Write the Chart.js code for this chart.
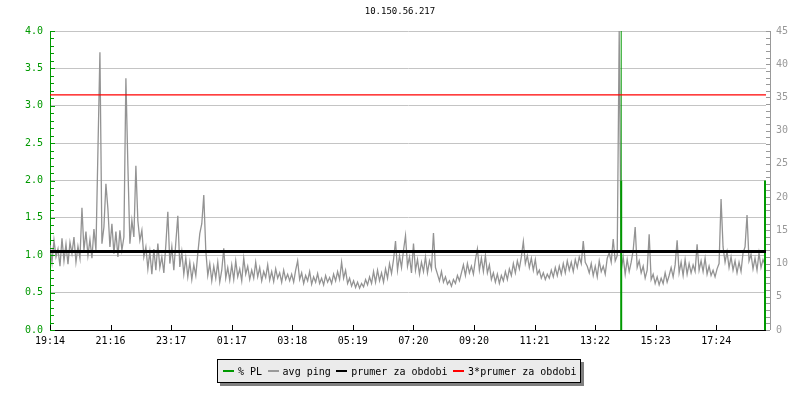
<!DOCTYPE html>
<html>
<head>
<meta charset="utf-8">
<script src="https://cdn.jsdelivr.net/npm/chart.js@4"></script>
<style>
  body { margin: 0; background: #fff; }
  #wrap { position: relative; width: 800px; height: 400px; }
  #title { position: absolute; top: 6px; left: 0; width: 800px; text-align: center;
           font: 9px "DejaVu Sans Mono", monospace; color: #000; }
  #legend { position: absolute; left: 217px; top: 359px; height: 24px; box-sizing: border-box;
            padding: 0 4px 0 5px; display: flex; align-items: center; background: #ebebeb;
            border: 1px solid #000; box-shadow: 3px 3px 0 #808080;
            font: 10px "DejaVu Sans Mono", monospace; color: #000; white-space: pre; }
  #legend .dash { display: inline-block; width: 11px; height: 2px; margin-right: 4px; }
  #legend .item { display: flex; align-items: center; margin-right: 5.5px; }
  #legend .item:last-child { margin-right: 0; }
</style>
</head>
<body>
<div id="wrap">
  <canvas id="pingChart" width="800" height="400"></canvas>
  <div id="title">10.150.56.217</div>
  <div id="legend"></div>
</div>
<script>
// time axis labels (ticks every ~2h)
const tickLabels = ["19:14", "21:16", "23:17", "01:17", "03:18", "05:19", "07:20", "09:20", "11:21", "13:22", "15:23", "17:24"];
const tickStepMin = 121.3;
const sampleStepMin = 4;
const rangeMin = 1434;

// avg ping [ms], one sample every 4 minutes starting 19:14
const avgPing = [
  12.8, 10.2, 13.5, 11.0, 12.2, 9.6, 13.8, 10.4, 12.9, 9.9, 13.2, 11.5, 14.0, 10.2, 12.6, 10.8,
  18.4, 12.0, 14.8, 11.2, 13.6, 10.8, 15.2, 12.0, 27.0, 41.8, 13.0, 15.5, 22.0, 18.2, 12.5, 16.0,
  11.5, 14.8, 11.0, 15.0, 12.0, 14.0, 37.9, 24.7, 13.0, 16.5, 14.0, 24.7, 16.4, 13.5, 15.0, 11.0,
  12.5, 9.2, 11.8, 8.4, 12.2, 9.0, 13.0, 9.4, 11.0, 8.6, 12.8, 17.8, 10.0, 12.5, 9.0, 13.2,
  17.2, 9.5, 11.8, 8.4, 10.8, 8.0, 10.2, 7.6, 9.8, 8.2, 11.5, 14.5, 16.0, 20.3, 12.0, 8.2,
  10.0, 7.4, 9.6, 7.8, 10.2, 7.2, 9.0, 12.3, 7.8, 9.4, 7.5,
  9.8, 7.6, 10.4, 8.0, 9.2, 7.4, 10.8, 8.4, 9.6, 7.6, 9.0, 7.8, 10.2, 8.0, 9.4, 7.4,
  8.8, 7.9, 9.8, 7.5, 8.8, 7.3, 9.2, 7.8, 8.6, 7.2, 9.0, 7.6, 8.4, 7.4,
  8.4, 7.2, 9.0, 10.4, 7.6, 8.6, 7.0, 8.2, 7.4, 8.8, 6.9, 8.0, 7.2, 8.5, 7.0, 7.8,
  6.8, 8.2, 7.2, 7.9, 7.0, 8.4, 7.4, 8.8, 7.6,
  10.2, 7.8, 9.0, 7.0, 7.8, 6.6, 7.4, 6.4, 7.2, 6.3, 7.0, 6.5, 7.6, 6.8, 8.0, 7.0,
  8.8, 7.2, 9.0, 7.4, 8.6, 7.2, 9.2, 7.8, 10.0, 8.5, 10.6, 13.4, 9.0, 11.2, 9.4, 12.0,
  14.2, 9.6, 11.0,
  8.6, 13.0, 9.0, 10.6, 8.4, 10.2, 8.8, 11.0, 8.6, 10.4, 9.2, 14.6, 9.4,
  8.4, 7.4, 8.8, 7.2, 8.0, 6.9, 7.4, 6.6, 7.6, 7.0, 8.2, 7.4, 8.6,
  9.8, 8.2, 10.0, 8.6, 9.6, 8.4, 10.6, 12.2, 9.0, 10.8, 8.8, 11.2, 8.6, 9.8, 7.6, 8.6,
  7.2, 8.4, 7.0, 8.2, 7.4, 8.8, 7.6, 9.2, 8.2, 10.0, 8.6, 10.4, 9.2, 11.0, 13.3, 10.0,
  11.2, 9.4,
  10.8, 9.0, 10.6, 8.4, 9.0, 7.8, 8.6, 7.6, 8.4, 7.8, 9.0, 8.0, 9.4, 8.2, 9.6, 8.4,
  10.0, 8.6, 10.4, 9.0, 10.2, 8.8, 10.6, 9.4, 11.0, 10.0, 13.4, 10.2, 9.6, 8.6,
  10.0, 8.2, 9.6, 8.0, 10.4, 8.8, 9.6, 8.4, 10.8, 11.6, 10.2, 13.7, 10.4, 11.2, 45.0,
  9.0, 11.0, 8.4, 10.6, 8.8, 10.2, 12.0, 15.5, 9.4, 10.4, 8.6, 9.6,
  7.8, 9.0, 14.4, 7.6, 8.4, 7.0, 8.0, 6.8, 7.8, 7.0, 8.6, 7.2, 8.2,
  9.4, 8.0, 9.8, 13.5, 8.6, 10.2, 8.2, 10.6, 8.4, 10.0, 8.6, 9.8, 8.8, 12.9, 9.0, 10.4,
  8.8, 10.8, 8.4, 9.6, 8.2, 9.0, 8.0, 9.2, 10.0,
  19.7, 12.5, 10.2, 11.8, 9.4, 11.0, 9.0, 10.4, 8.6, 10.2, 8.8, 11.6, 12.5, 17.3, 10.4, 11.4,
  9.2, 10.8, 9.0, 11.6, 9.4, 10.6, 9.8
];

// packet loss events [%]
const plTimes = [1144, 1432];
const plValues = [2, 2];
const plMax = [4, 2];

const prumer = 11.8;        // prumer za obdobi [ms]
const prumer3 = 35.4;       // 3*prumer

const color = { Green: '#009900', Grey: '#999999', Black: '#000000', Red: '#ff0000', Grid: '#c4c4c4' };

const pingData = avgPing.map((v, i) => ({ x: i * sampleStepMin, y: v }));
const plData = [], plPeakData = [];
plTimes.forEach((t, i) => {
  plData.push({ x: t, y: 0 }, { x: t, y: plValues[i] }, { x: t, y: null });
  if (plMax[i] > plValues[i]) plPeakData.push({ x: t, y: plValues[i] }, { x: t, y: plMax[i] }, { x: t, y: null });
});

// small axis ticks drawn inside, rrdtool style
const minorTicks = {
  id: 'minorTicks',
  afterDraw(chart) {
    const ctx = chart.ctx, a = chart.chartArea;
    const yl = chart.scales.y, yr = chart.scales.y1, x = chart.scales.x;
    ctx.save();
    ctx.lineWidth = 1;
    ctx.strokeStyle = color.Green;
    for (let k = 0; k <= 40; k++) {
      const py = Math.round(yl.getPixelForValue(k / 10)) + 0.5;
      ctx.beginPath(); ctx.moveTo(a.left, py); ctx.lineTo(a.left + (k % 5 ? 4 : 5), py); ctx.stroke();
    }
    ctx.strokeStyle = color.Grey;
    for (let k = 0; k <= 45; k++) {
      const py = Math.round(yr.getPixelForValue(k)) + 0.5;
      ctx.beginPath(); ctx.moveTo(a.right, py); ctx.lineTo(a.right + 4, py); ctx.stroke();
    }
    ctx.beginPath(); ctx.moveTo(a.right + 4.5, a.top); ctx.lineTo(a.right + 4.5, a.bottom); ctx.stroke();
    ctx.strokeStyle = color.Black;
    x.ticks.forEach(t => {
      const px = Math.round(x.getPixelForValue(t.value)) + 0.5;
      ctx.beginPath(); ctx.moveTo(px, a.bottom); ctx.lineTo(px, a.bottom - 5); ctx.stroke();
    });
    ctx.restore();
  }
};

Chart.defaults.font.family = '"DejaVu Sans Mono", monospace';
Chart.defaults.font.size = 10;

const pingChart = new Chart(document.getElementById('pingChart'), {
  type: 'line',
  data: {
    datasets: [
      { label: 'prumer za obdobi', data: [{ x: 0, y: prumer }, { x: rangeMin, y: prumer }],
        borderColor: color.Black, borderWidth: 3, yAxisID: 'y1', order: 0 },
      { label: '3*prumer za obdobi', data: [{ x: 0, y: prumer3 }, { x: rangeMin, y: prumer3 }],
        borderColor: color.Red, borderWidth: 1.2, yAxisID: 'y1', order: 1 },
      { label: '% PL', data: plData, borderColor: color.Green, borderWidth: 2, yAxisID: 'y', order: 2, spanGaps: false },
      { label: '% PL max', data: plPeakData, borderColor: color.Green, borderWidth: 1, yAxisID: 'y', order: 3, spanGaps: false },
      { label: 'avg ping', data: pingData, borderColor: '#939393', borderWidth: 1.3, yAxisID: 'y1', order: 4 },
    ],
  },
  options: {
    responsive: false,
    animation: false,
    devicePixelRatio: 1,
    layout: { padding: { top: 31, left: 0, right: 0, bottom: 0 } },
    elements: { point: { radius: 0 }, line: { tension: 0 } },
    plugins: { legend: { display: false }, tooltip: { enabled: false } },
    scales: {
      x: {
        type: 'linear', min: 0, max: rangeMin,
        afterBuildTicks: s => { s.ticks = tickLabels.map((_, i) => ({ value: i * tickStepMin })); },
        afterFit: s => { s.height = 70; },
        ticks: { callback: (v, i) => tickLabels[i], color: '#000', padding: 5, maxRotation: 0, autoSkip: false },
        grid: { drawOnChartArea: false, drawTicks: false },
        border: { color: '#000', width: 1 },
      },
      y: {
        position: 'left', min: 0, max: 4,
        afterFit: s => { s.width = 50; },
        ticks: { stepSize: 0.5, callback: v => v.toFixed(1), color: color.Green, padding: 7 },
        grid: { color: color.Grid, drawTicks: false },
        border: { color: color.Green, width: 1 },
      },
      y1: {
        position: 'right', min: 0, max: 45,
        afterFit: s => { s.width = 34; },
        ticks: { stepSize: 5, color: color.Grey, padding: 10 },
        grid: { drawOnChartArea: false, drawTicks: false },
        border: { display: false },
      },
    },
  },
  plugins: [minorTicks],
});

// legend box like the original
const legendItems = [['% PL', color.Green], ['avg ping', color.Grey], ['prumer za obdobi', color.Black], ['3*prumer za obdobi', color.Red]];
document.getElementById('legend').innerHTML = legendItems
  .map(([t, c]) => '<span class="item"><span class="dash" style="background:' + c + '"></span>' + t + '</span>').join('');
</script>
</body>
</html>
